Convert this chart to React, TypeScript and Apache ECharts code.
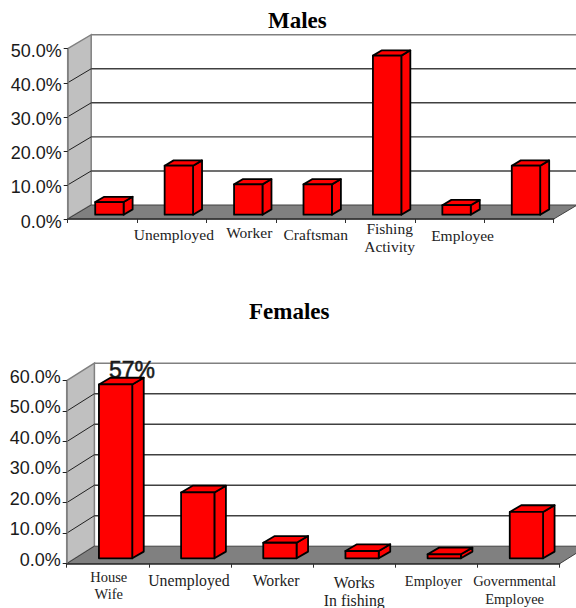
import React, { useEffect, useRef } from "react";
import * as echarts from "echarts";

// Share of employment by occupation, in percent.
const maleCategories = ["", "Unemployed", "Worker", "Craftsman", "Fishing\nActivity", "Employee", ""];
const maleValues = [3.7, 14.4, 8.9, 8.9, 46.7, 2.8, 14.4];
const maleTicks = [10, 20, 30, 40, 50];

const femaleCategories = ["House\nWife", "Unemployed", "Worker", "Works\nIn fishing", "Employer", "Governmental\nEmployee"];
const femaleValues = [57, 21.6, 5.1, 2.4, 1.3, 15.2];
const femaleTicks = [10, 20, 30, 40, 50, 60];
const femaleLabelledBars = [0];

const SERIF = "'Liberation Serif', 'Times New Roman', serif";
const SANS = "'Liberation Sans', Arial, sans-serif";

type Panel = {
  categories: string[];
  values: number[];
  ticks: number[];
  labelled: number[];
  max: number;
  grid: { left: number; right: number; top: number; bottom: number };
  wallDepth: [number, number]; // offset from the front edge of the floor to the back wall
  barDepth: [number, number]; // offset from a bar's front face to its back face
  baseOffset: [number, number]; // offset from the axis to a bar's front-bottom centre
  barWidth: number;
  labelMargin: number;
  labelStyle: { size: number; dx: number; dy: number; lineHeight?: number }[];
  yLabelAlign: { verticalAlign: string; lineHeight: number };
};

function panelOptions(p: Panel, index: number) {
  const [wx, wy] = p.wallDepth;
  const [bx, by] = p.barDepth;
  const [ox, oy] = p.baseOffset;

  const walls = {
    type: "custom",
    xAxisIndex: index,
    yAxisIndex: index,
    silent: true,
    data: [[0, 0]],
    renderItem: (params: any) => {
      const { x, y, width, height } = params.coordSys;
      const r = x + width;
      const b = y + height;
      return {
        type: "group",
        children: [
          {
            type: "polygon",
            shape: { points: [[x + wx, y + wy], [r + wx, y + wy], [r + wx, b + wy], [x + wx, b + wy]] },
            style: { fill: "#ffffff" },
          },
          {
            type: "polygon",
            shape: { points: [[x, y], [x + wx, y + wy], [x + wx, b + wy], [x, b]] },
            style: { fill: "#c0c0c0", stroke: "#808080", lineWidth: 1.5 },
          },
          {
            type: "polygon",
            shape: { points: [[x, b], [x + wx, b + wy], [r + wx, b + wy], [r, b]] },
            style: { fill: "#808080", stroke: "#404040", lineWidth: 1 },
          },
          {
            type: "line",
            shape: { x1: x + wx, y1: y + wy, x2: r + wx, y2: y + wy },
            style: { stroke: "#808080", lineWidth: 1.5 },
          },
        ],
      };
    },
  };

  const gridLines = {
    type: "custom",
    xAxisIndex: index,
    yAxisIndex: index,
    silent: true,
    data: p.ticks.map((t) => [0, t]),
    renderItem: (params: any, api: any) => {
      const { x, width } = params.coordSys;
      const value = api.value(1);
      const yy = api.coord([0, value])[1];
      const isTop = value === p.max;
      return {
        type: "group",
        children: isTop
          ? []
          : [
              {
                type: "line",
                shape: { x1: x + wx, y1: yy + wy, x2: x + width + wx, y2: yy + wy },
                style: { stroke: "#404040", lineWidth: 1.4 },
              },
              {
                type: "line",
                shape: { x1: x, y1: yy, x2: x + wx, y2: yy + wy },
                style: { stroke: "#202020", lineWidth: 1 },
              },
            ],
      };
    },
  };

  const bars = {
    type: "custom",
    xAxisIndex: index,
    yAxisIndex: index,
    silent: true,
    data: p.values.map((v, i) => [i, v]),
    encode: { x: 0, y: 1 },
    renderItem: (_params: any, api: any) => {
      const i = api.value(0);
      const v = api.value(1);
      const top = api.coord([i, v]);
      const base = api.coord([i, 0]);
      const left = base[0] + ox - p.barWidth / 2;
      const right = left + p.barWidth;
      const yBottom = base[1] + oy;
      const yTop = top[1] + oy;
      const face = { fill: "#ff0000", stroke: "#000000", lineWidth: 1.8, lineJoin: "round" };
      const children: any[] = [];
      if (p.labelled.includes(i)) {
        children.push({
          type: "text",
          x: left + 10,
          y: yTop + by + 4,
          style: {
            text: `${v}%`,
            font: `23px ${SANS}`,
            fill: "#1a1a1a",
            stroke: "#1a1a1a",
            lineWidth: 0.5,
            verticalAlign: "bottom",
            textAlign: "left",
          },
        });
      }
      children.push(
        {
          type: "polygon",
          shape: { points: [[right, yTop], [right + bx, yTop + by], [right + bx, yBottom + by], [right, yBottom]] },
          style: face,
        },
        {
          type: "polygon",
          shape: { points: [[left, yTop], [left + bx, yTop + by], [right + bx, yTop + by], [right, yTop]] },
          style: face,
        },
        {
          type: "polygon",
          shape: { points: [[left, yTop], [right, yTop], [right, yBottom], [left, yBottom]] },
          style: face,
        }
      );
      return { type: "group", children };
    },
  };

  return {
    grid: { ...p.grid, containLabel: false, outerBoundsMode: "none" },
    xAxis: {
      type: "category",
      gridIndex: index,
      z: 5,
      data: p.categories.map((c, i) => {
        const s = p.labelStyle[i];
        return {
          value: c,
          textStyle: {
            fontSize: s.size,
            lineHeight: s.lineHeight ?? 18,
            padding: [s.dy, Math.max(-s.dx, 0) * 2, 0, Math.max(s.dx, 0) * 2],
          },
        };
      }),
      axisLine: { lineStyle: { color: "#303030", width: 1.5 } },
      axisTick: { show: true, length: 4, lineStyle: { color: "#303030", width: 1 } },
      axisLabel: { interval: 0, margin: p.labelMargin, color: "#222222", fontFamily: SERIF, hideOverlap: false },
      splitLine: { show: false },
    },
    yAxis: {
      type: "value",
      gridIndex: index,
      z: 5,
      min: 0,
      max: p.max,
      interval: 10,
      axisLine: { show: true, lineStyle: { color: "#808080", width: 1.5 } },
      axisTick: { show: true, length: 4, lineStyle: { color: "#202020", width: 1 } },
      axisLabel: {
        margin: 6,
        fontFamily: SANS,
        fontSize: 18,
        color: "#1a1a1a",
        ...p.yLabelAlign,
        formatter: (v: number) => `${v.toFixed(1)}%`,
      },
      splitLine: { show: false },
    },
    series: [walls, gridLines, bars],
  };
}

const males: Panel = {
  categories: maleCategories,
  values: maleValues,
  ticks: maleTicks,
  labelled: [],
  max: 50,
  grid: { left: 67.7, right: 22.3, top: 48.7, bottom: 389 },
  wallDepth: [23.5, -14],
  barDepth: [9, -5.3],
  baseOffset: [7, -4.3],
  barWidth: 28.4,
  labelMargin: 0,
  labelStyle: [
    { size: 15.5, dx: 0, dy: 0 },
    { size: 15.5, dx: 2, dy: 6 },
    { size: 15.5, dx: 8, dy: 4.3 },
    { size: 15.5, dx: 5, dy: 6 },
    { size: 15.5, dx: 9.5, dy: 0 },
    { size: 15.5, dx: 13, dy: 7 },
    { size: 15.5, dx: 0, dy: 0 },
  ],
  yLabelAlign: { verticalAlign: "top", lineHeight: 5 },
};

const females: Panel = {
  categories: femaleCategories,
  values: femaleValues,
  ticks: femaleTicks,
  labelled: femaleLabelledBars,
  max: 60,
  grid: { left: 66.7, right: 16.3, top: 380.7, bottom: 44.3 },
  wallDepth: [27.7, -17.5],
  barDepth: [11.5, -6.7],
  baseOffset: [7.8, -5.4],
  barWidth: 33.3,
  labelMargin: 4,
  labelStyle: [
    { size: 14.5, dx: 1, dy: 0.7, lineHeight: 17 },
    { size: 15.8, dx: -1, dy: 4 },
    { size: 15.8, dx: 4, dy: 4 },
    { size: 15.8, dx: 0, dy: 5.7, lineHeight: 18.3 },
    { size: 14.5, dx: -3, dy: 4.7 },
    { size: 14.5, dx: -4, dy: 5, lineHeight: 17.3 },
  ],
  yLabelAlign: { verticalAlign: "bottom", lineHeight: 7.5 },
};

const titleStyle = { fontFamily: SERIF, fontSize: 23, fontWeight: "bold" as const, color: "#000000" };

export default function App() {
  const ref = useRef<HTMLDivElement>(null);

  useEffect(() => {
    if (!ref.current) return;
    const chart = echarts.init(ref.current, undefined, { renderer: "svg" });
    const top = panelOptions(males, 0);
    const bottom = panelOptions(females, 1);
    chart.setOption({
      animation: false,
      backgroundColor: "#ffffff",
      title: [
        { text: "Males", left: 268, top: 9, padding: 0, textStyle: titleStyle },
        { text: "Females", left: 249, top: 300, padding: 0, textStyle: titleStyle },
      ],
      grid: [top.grid, bottom.grid],
      xAxis: [top.xAxis, bottom.xAxis],
      yAxis: [top.yAxis, bottom.yAxis],
      series: [...top.series, ...bottom.series],
    });
    return () => chart.dispose();
  }, []);

  return <div ref={ref} style={{ position: "absolute", left: 0, top: 0, width: 576, height: 608 }} />;
}
